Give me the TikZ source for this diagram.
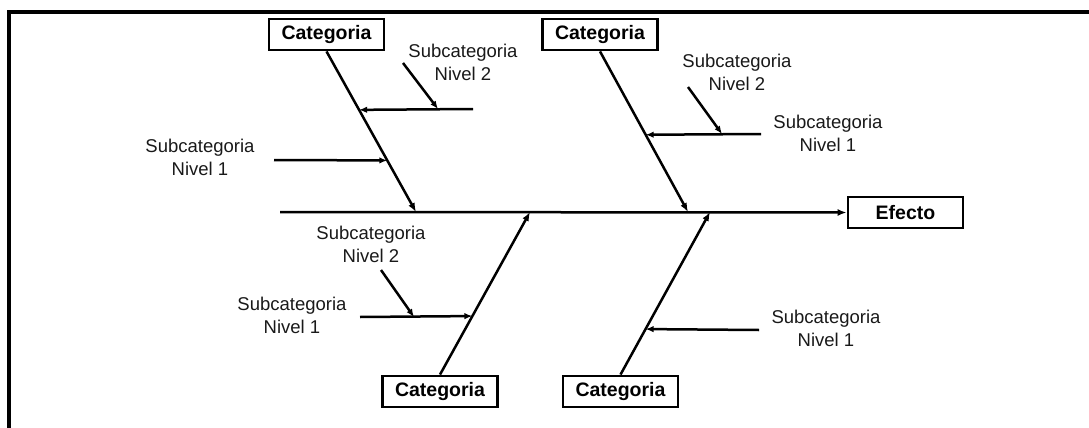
\documentclass[tikz,border=0pt]{standalone}
\usepackage{fontspec}
\setmainfont{Liberation Sans}
\usetikzlibrary{calc,arrows.meta}

\begin{document}
\begin{tikzpicture}[x=1pt,y=-1pt,
  catbox/.style={draw,line width=2.8pt,minimum width=115pt,minimum height=31pt,
    inner sep=0pt,font=\fontsize{19.5}{21}\selectfont\bfseries},
  sublabel/.style={align=center,text=black!90,inner sep=0pt,
    font=\fontsize{18.5}{23}\selectfont},
  bone/.style={line width=2.5pt,-{Latex[length=9pt,width=7pt]}},
  twig/.style={line width=2.5pt,-{Latex[length=8pt,width=6.5pt]}},
  frameline/.style={line width=3.5pt}]

\useasboundingbox (0,0) rectangle (1089,428);

% open frame: top and left edges only
\coordinate (fr-top) at (1089,12);
\coordinate (fr-corner) at (9,12);
\coordinate (fr-bot) at (9,428);
\draw[frameline] (fr-top) -- (fr-corner) -- (fr-bot);

% effect box and main spine
\node[catbox] (efecto) at (905.5,212.5) {Efecto};
\coordinate (spine) at (280,212);
\draw[bone] (spine) -- (efecto.west);

% category boxes
\node[catbox] (cat1) at (326.5,34.5) {Categoria};
\node[catbox] (cat2) at (600,34.5) {Categoria};
\node[catbox] (cat3) at (440,391.5) {Categoria};
\node[catbox] (cat4) at (620.5,391.5) {Categoria};

% junctions on the spine
\coordinate (j1) at (416,212);
\coordinate (j2) at (688,212);
\coordinate (j3) at (530,212);
\coordinate (j4) at (710,212);

% main bones
\draw[bone] (cat1.south) -- (j1);
\draw[bone] (cat2.south) -- (j2);
\draw[bone] (cat3.north) -- (j3);
\draw[bone] (cat4.north) -- (j4);

% points where sub-branches meet the bones
\coordinate (b1a) at ($(cat1.south)!0.364!(j1)$);
\coordinate (b1b) at ($(cat1.south)!0.679!(j1)$);
\coordinate (b2a) at ($(cat2.south)!0.519!(j2)$);
\coordinate (b3a) at ($(cat3.north)!0.36!(j3)$);
\coordinate (b4a) at ($(cat4.north)!0.28!(j4)$);

% --- upper left category ---
\coordinate (s1a) at (473,109);
\draw[twig] (s1a) -- (b1a);
\coordinate (t1) at (403,63);
\coordinate (m1) at (438,109);
\draw[twig] (t1) -- (m1);
\node[sublabel] (l1a) at (463,62) {Subcategoria\\Nivel 2};

\coordinate (s1b) at (274,160);
\draw[twig] (s1b) -- (b1b);
\node[sublabel] (l1b) at (200,157) {Subcategoria\\Nivel 1};

% --- upper right category ---
\coordinate (s2a) at (761,134);
\draw[twig] (s2a) -- (b2a);
\coordinate (t2) at (688,87);
\coordinate (m2) at (722,134);
\draw[twig] (t2) -- (m2);
\node[sublabel] (l2a) at (737,72) {Subcategoria\\Nivel 2};
\node[sublabel] (l2b) at (828,133) {Subcategoria\\Nivel 1};

% --- lower left category ---
\coordinate (s3a) at (360,317);
\draw[twig] (s3a) -- (b3a);
\coordinate (t3) at (381,270);
\coordinate (m3) at (414,317);
\draw[twig] (t3) -- (m3);
\node[sublabel] (l3a) at (371,244) {Subcategoria\\Nivel 2};
\node[sublabel] (l3b) at (292,315) {Subcategoria\\Nivel 1};

% --- lower right category ---
\coordinate (s4a) at (759,330);
\draw[twig] (s4a) -- (b4a);
\node[sublabel] (l4a) at (826,328) {Subcategoria\\Nivel 1};

\end{tikzpicture}
\end{document}
